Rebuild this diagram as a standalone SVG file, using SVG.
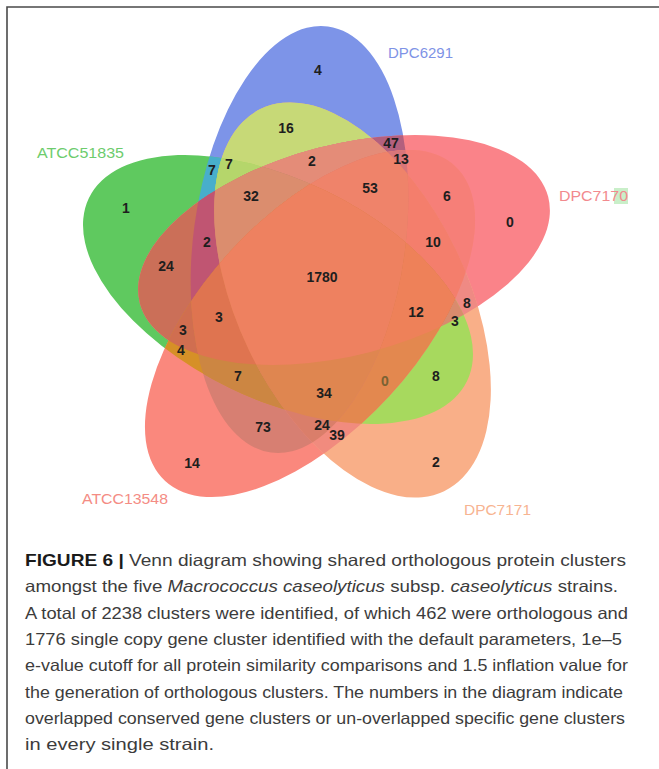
<svg xmlns="http://www.w3.org/2000/svg" xmlns:xlink="http://www.w3.org/1999/xlink" width="659" height="769" viewBox="0 0 659 769">
<style>
.n{font-family:"Liberation Sans",Arial,sans-serif;font-weight:bold;font-size:14px;fill:#1e1e1e;text-anchor:middle}
.lab{font-family:"Liberation Sans",Arial,sans-serif;font-size:15.5px}
.cap{font-family:"Liberation Sans",Arial,sans-serif;font-size:16.5px;fill:#3c3c3c}
</style>
<defs>
<ellipse id="eB" cx="0" cy="0" rx="215" ry="106" transform="translate(299.5 239.5) rotate(-82.4)"/>
<ellipse id="eR" cx="0" cy="0" rx="211" ry="105.3" transform="translate(344 250) rotate(-14.6)"/>
<ellipse id="eO" cx="0" cy="0" rx="212" ry="115" transform="translate(352.5 300) rotate(64.4)"/>
<ellipse id="eS" cx="0" cy="0" rx="214" ry="107.5" transform="translate(310 323.5) rotate(-47.4)"/>
<ellipse id="eG" cx="0" cy="0" rx="210" ry="109.6" transform="translate(278 289.5) rotate(25.8)"/>
<clipPath id="cB"><ellipse cx="0" cy="0" rx="215" ry="106" transform="translate(299.5 239.5) rotate(-82.4)"/></clipPath>
<clipPath id="cR"><ellipse cx="0" cy="0" rx="211" ry="105.3" transform="translate(344 250) rotate(-14.6)"/></clipPath>
<clipPath id="cO"><ellipse cx="0" cy="0" rx="212" ry="115" transform="translate(352.5 300) rotate(64.4)"/></clipPath>
<clipPath id="cS"><ellipse cx="0" cy="0" rx="214" ry="107.5" transform="translate(310 323.5) rotate(-47.4)"/></clipPath>
<clipPath id="cG"><ellipse cx="0" cy="0" rx="210" ry="109.6" transform="translate(278 289.5) rotate(25.8)"/></clipPath>
</defs>
<rect width="659" height="769" fill="#ffffff"/>
<path d="M7 769 V7 H659" fill="none" stroke="#4a4a4a" stroke-width="1.6"/>
<g id="venn-regions">
<!-- single sets -->
<use href="#eB" fill="#7D94E8"/>
<use href="#eG" fill="#5FC95F"/>
<use href="#eR" fill="#FA8389"/>
<use href="#eS" fill="#FA887D"/>
<use href="#eO" fill="#F9AF88"/>
<!-- pairs -->
<g clip-path="url(#cB)"><use href="#eG" fill="#48AECB"/></g>
<g clip-path="url(#cB)"><use href="#eO" fill="#C7D977"/></g>
<g clip-path="url(#cB)"><use href="#eR" fill="#B3607E"/></g>
<g clip-path="url(#cB)"><use href="#eS" fill="#D77F72"/></g>
<g clip-path="url(#cR)"><use href="#eS" fill="#F67F78"/></g>
<g clip-path="url(#cR)"><use href="#eG" fill="#CB6F58"/></g>
<g clip-path="url(#cR)"><use href="#eO" fill="#EF8A84"/></g>
<g clip-path="url(#cG)"><use href="#eS" fill="#D69027"/></g>
<g clip-path="url(#cG)"><use href="#eO" fill="#A7D95E"/></g>
<g clip-path="url(#cS)"><use href="#eO" fill="#F18B7E"/></g>
<!-- triples -->
<g clip-path="url(#cB)"><g clip-path="url(#cR)"><use href="#eS" fill="#D8757A"/></g></g>
<g clip-path="url(#cB)"><g clip-path="url(#cR)"><use href="#eO" fill="#E48C78"/></g></g>
<g clip-path="url(#cB)"><g clip-path="url(#cG)"><use href="#eO" fill="#B5D66B"/></g></g>
<g clip-path="url(#cB)"><g clip-path="url(#cR)"><use href="#eG" fill="#C05572"/></g></g>
<g clip-path="url(#cR)"><g clip-path="url(#cS)"><use href="#eO" fill="#F47E6C"/></g></g>
<g clip-path="url(#cR)"><g clip-path="url(#cO)"><use href="#eG" fill="#D98B6D"/></g></g>
<g clip-path="url(#cG)"><g clip-path="url(#cR)"><use href="#eS" fill="#D06E50"/></g></g>
<g clip-path="url(#cG)"><g clip-path="url(#cS)"><use href="#eB" fill="#CC8642"/></g></g>
<g clip-path="url(#cG)"><g clip-path="url(#cO)"><use href="#eS" fill="#E3884F"/></g></g>
<g clip-path="url(#cS)"><g clip-path="url(#cB)"><use href="#eO" fill="#DA7E6A"/></g></g>
<!-- quadruples -->
<g clip-path="url(#cB)"><g clip-path="url(#cO)"><g clip-path="url(#cG)"><use href="#eR" fill="#DB8D6E"/></g></g></g>
<g clip-path="url(#cB)"><g clip-path="url(#cR)"><g clip-path="url(#cS)"><use href="#eO" fill="#EF836A"/></g></g></g>
<g clip-path="url(#cR)"><g clip-path="url(#cO)"><g clip-path="url(#cS)"><use href="#eG" fill="#EE8159"/></g></g></g>
<g clip-path="url(#cB)"><g clip-path="url(#cR)"><g clip-path="url(#cS)"><use href="#eG" fill="#DF7450"/></g></g></g>
<g clip-path="url(#cG)"><g clip-path="url(#cS)"><g clip-path="url(#cO)"><use href="#eB" fill="#DF8650"/></g></g></g>
<!-- all five -->
<g clip-path="url(#cB)"><g clip-path="url(#cR)"><g clip-path="url(#cO)"><g clip-path="url(#cS)"><use href="#eG" fill="#EE8160"/></g></g></g></g>
</g>
<g id="set-labels">
<g id="DPC6291"><text class="lab" x="388" y="58" fill="#7E93E6" textLength="65" lengthAdjust="spacingAndGlyphs">DPC6291</text></g>
<g id="ATCC51835"><text class="lab" x="37" y="158" fill="#6DCC6D" textLength="87" lengthAdjust="spacingAndGlyphs">ATCC51835</text></g>
<g id="DPC7170"><rect x="614" y="188" width="14" height="16" fill="#C9EFC9"/><text class="lab" x="559" y="201" fill="#F28A8E" textLength="69" lengthAdjust="spacingAndGlyphs">DPC7170</text></g>
<g id="ATCC13548"><text class="lab" x="82" y="504" fill="#F48C84" textLength="86" lengthAdjust="spacingAndGlyphs">ATCC13548</text></g>
<g id="DPC7171"><text class="lab" x="464" y="515" fill="#F7B491" textLength="67" lengthAdjust="spacingAndGlyphs">DPC7171</text></g>
</g>
<g id="counts">
<text class="n" x="318" y="75">4</text>
<text class="n" x="286" y="133">16</text>
<text class="n" x="391" y="148">47</text>
<text class="n" x="401" y="164">13</text>
<text class="n" x="312" y="166">2</text>
<text class="n" x="212" y="175">7</text>
<text class="n" x="229" y="169">7</text>
<text class="n" x="126" y="213">1</text>
<text class="n" x="251" y="201">32</text>
<text class="n" x="370" y="193">53</text>
<text class="n" x="447" y="201">6</text>
<text class="n" x="510" y="227">0</text>
<text class="n" x="207" y="247">2</text>
<text class="n" x="433" y="247">10</text>
<text class="n" x="166" y="271">24</text>
<text class="n" x="322" y="282">1780</text>
<text class="n" x="467" y="308">8</text>
<text class="n" x="416" y="317">12</text>
<text class="n" x="455" y="326">3</text>
<text class="n" x="219" y="322">3</text>
<text class="n" x="183" y="335">3</text>
<text class="n" x="181" y="355">4</text>
<text class="n" x="238" y="381">7</text>
<text class="n" x="385" y="386" style="fill:#7a6233">0</text>
<text class="n" x="436" y="381">8</text>
<text class="n" x="324" y="398">34</text>
<text class="n" x="263" y="432">73</text>
<text class="n" x="322" y="430">24</text>
<text class="n" x="337" y="440">39</text>
<text class="n" x="192" y="468">14</text>
<text class="n" x="436" y="467">2</text>
</g>
<g id="caption">
<text class="cap" x="25" y="566" textLength="601" lengthAdjust="spacingAndGlyphs"><tspan font-weight="bold" fill="#1a1a1a">FIGURE 6 |</tspan> Venn diagram showing shared orthologous protein clusters</text>
<text class="cap" x="25" y="592.3" textLength="593" lengthAdjust="spacingAndGlyphs">amongst the five <tspan font-style="italic">Macrococcus caseolyticus</tspan> subsp. <tspan font-style="italic">caseolyticus</tspan> strains.</text>
<text class="cap" x="25" y="618.6" textLength="603" lengthAdjust="spacingAndGlyphs">A total of 2238 clusters were identified, of which 462 were orthologous and</text>
<text class="cap" x="25" y="644.9" textLength="597" lengthAdjust="spacingAndGlyphs">1776 single copy gene cluster identified with the default parameters, 1e–5</text>
<text class="cap" x="25" y="671.2" textLength="603" lengthAdjust="spacingAndGlyphs">e-value cutoff for all protein similarity comparisons and 1.5 inflation value for</text>
<text class="cap" x="25" y="697.5" textLength="598" lengthAdjust="spacingAndGlyphs">the generation of orthologous clusters. The numbers in the diagram indicate</text>
<text class="cap" x="25" y="723.8" textLength="600" lengthAdjust="spacingAndGlyphs">overlapped conserved gene clusters or un-overlapped specific gene clusters</text>
<text class="cap" x="25" y="750.1" textLength="189" lengthAdjust="spacingAndGlyphs">in every single strain.</text>
</g>
</svg>
